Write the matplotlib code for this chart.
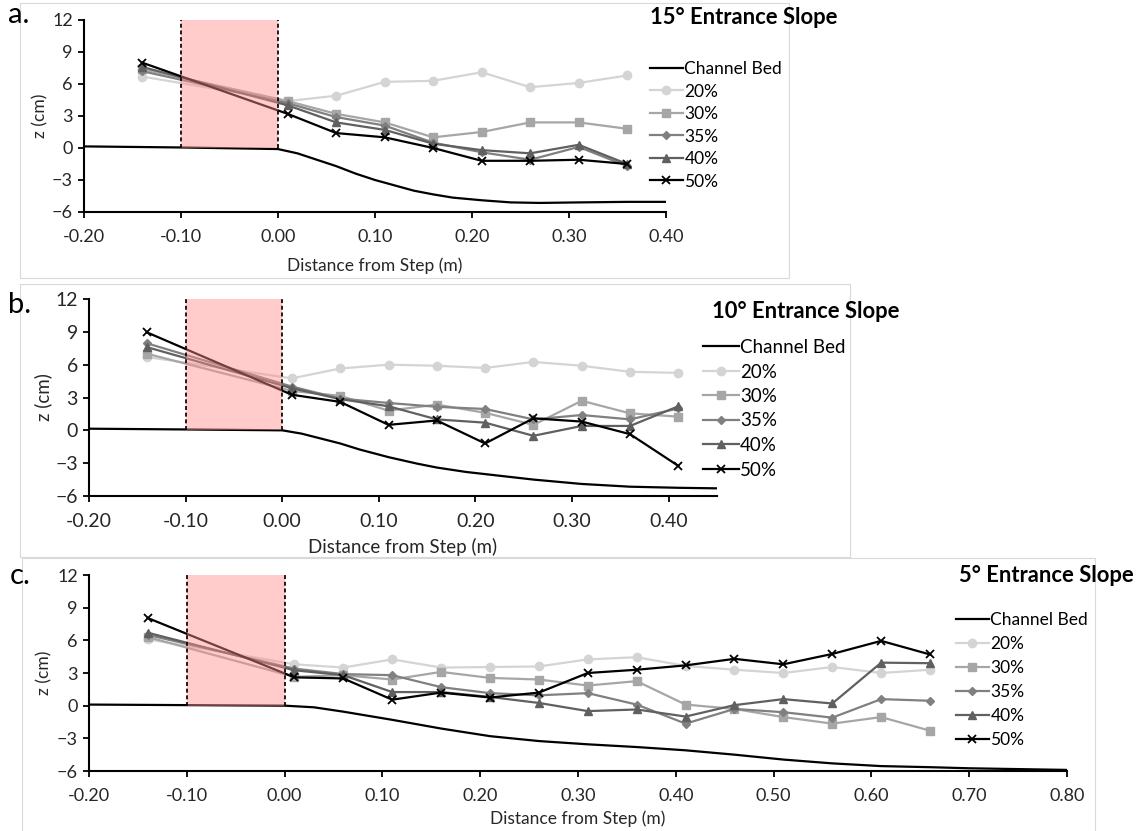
import matplotlib
matplotlib.use("Agg")
import matplotlib.pyplot as plt
from matplotlib.patches import Rectangle

plt.rcParams['font.family'] = ['Lato', 'DejaVu Sans']

W, H = 1138, 831

series_labels = ['20%', '30%', '35%', '40%', '50%']

# 15 degree entrance slope
x_a = [-0.14, 0.01, 0.06, 0.11, 0.16, 0.21, 0.26, 0.31, 0.36]
a_20 = [6.7, 4.4, 4.9, 6.2, 6.3, 7.1, 5.7, 6.1, 6.8]
a_30 = [7.4, 4.4, 3.2, 2.4, 1.0, 1.5, 2.4, 2.4, 1.8]
a_35 = [7.2, 4.2, 2.9, 2.1, 0.5, -0.4, -1.1, 0.1, -1.7]
a_40 = [7.6, 4.0, 2.4, 1.7, 0.4, -0.2, -0.5, 0.3, -1.5]
a_50 = [8.0, 3.2, 1.4, 1.0, 0.0, -1.2, -1.2, -1.1, -1.5]
bed_x_a = [-0.20, -0.10, 0.00, 0.02, 0.04, 0.06, 0.08, 0.10, 0.12, 0.14, 0.16,
           0.18, 0.21, 0.24, 0.27, 0.31, 0.36, 0.40]
bed_z_a = [0.15, 0.05, -0.1, -0.5, -1.1, -1.7, -2.4, -3.0, -3.5, -4.0, -4.35,
           -4.65, -4.9, -5.1, -5.15, -5.1, -5.05, -5.05]

# 10 degree entrance slope
x_b = [-0.14, 0.01, 0.06, 0.11, 0.16, 0.21, 0.26, 0.31, 0.36, 0.41]
b_20 = [6.7, 4.75, 5.65, 6.0, 5.9, 5.7, 6.25, 5.9, 5.35, 5.25]
b_30 = [7.0, 3.6, 3.15, 1.8, 2.35, 1.6, 0.5, 2.7, 1.55, 1.25]
b_35 = [7.95, 4.0, 2.9, 2.5, 2.15, 1.95, 1.0, 1.4, 1.0, 2.0]
b_40 = [7.6, 3.85, 2.85, 2.2, 1.0, 0.7, -0.5, 0.4, 0.4, 2.2]
b_50 = [8.95, 3.25, 2.6, 0.5, 0.9, -1.2, 1.1, 0.8, -0.35, -3.25]
bed_x_b = [-0.20, -0.10, 0.00, 0.02, 0.04, 0.06, 0.08, 0.11, 0.14, 0.16, 0.19,
           0.21, 0.26, 0.31, 0.36, 0.41, 0.45]
bed_z_b = [0.15, 0.08, 0.0, -0.3, -0.75, -1.2, -1.75, -2.45, -3.05, -3.4, -3.8,
           -4.0, -4.5, -4.9, -5.15, -5.25, -5.3]

# 5 degree entrance slope
x_c = [-0.14, 0.01, 0.06, 0.11, 0.16, 0.21, 0.26, 0.31, 0.36, 0.41, 0.46,
       0.51, 0.56, 0.61, 0.66]
c_20 = [6.1, 3.8, 3.5, 4.25, 3.5, 3.55, 3.6, 4.25, 4.45, 3.65, 3.3, 3.0, 3.55, 3.0, 3.3]
c_30 = [6.3, 2.65, 2.8, 2.4, 3.1, 2.55, 2.4, 1.85, 2.25, 0.1, -0.3, -1.05, -1.65, -1.05, -2.3]
c_35 = [6.5, 3.4, 2.9, 2.8, 1.7, 1.15, 0.95, 1.15, 0.1, -1.65, -0.3, -0.6, -1.1, 0.6, 0.45]
c_40 = [6.7, 3.25, 2.8, 1.25, 1.25, 0.8, 0.25, -0.5, -0.35, -1.0, 0.05, 0.6, 0.2, 3.95, 3.9]
c_50 = [8.05, 2.6, 2.5, 0.55, 1.2, 0.75, 1.2, 3.0, 3.3, 3.7, 4.3, 3.8, 4.75, 5.95, 4.7]
bed_x_c = [-0.20, -0.10, 0.00, 0.03, 0.06, 0.11, 0.16, 0.21, 0.26, 0.31, 0.36,
           0.41, 0.46, 0.51, 0.56, 0.61, 0.66, 0.70, 0.80]
bed_z_c = [0.1, 0.05, 0.0, -0.15, -0.55, -1.3, -2.1, -2.8, -3.25, -3.55, -3.8,
           -4.1, -4.5, -4.95, -5.3, -5.55, -5.65, -5.75, -5.9]

styles = [
    dict(color='#d4d4d4', marker='o', ms=6),
    dict(color='#a6a6a6', marker='s', ms=5.5),
    dict(color='#808080', marker='D', ms=4),
    dict(color='#606060', marker='^', ms=6),
    dict(color='#000000', marker='x', ms=6, mew=1.3),
]


def px_axes(fig, left, top, right, bottom):
    return fig.add_axes([left / W, 1 - bottom / H, (right - left) / W, (bottom - top) / H])


def frame(fig, left, top, right, bottom):
    fig.patches.append(Rectangle((left / W, 1 - bottom / H), (right - left) / W,
                                 (bottom - top) / H, transform=fig.transFigure,
                                 fill=False, edgecolor='#d9d9d9', lw=0.8, zorder=0))


def draw_panel(fig, box, x, ys, bed_x, bed_z, xmax, title, title_xy, leg_xy,
               letter, letter_xy, ylabel_x, xlabel_y, fs=12.5, tick_fs=13,
               leg_fs=12.5, leg_space=0.35):
    ax = px_axes(fig, *box)
    handles = []
    h, = ax.plot(bed_x, bed_z, color='black', lw=1.6, zorder=2)
    handles.append(h)
    for y, st in zip(ys, styles):
        h, = ax.plot(x, y, lw=1.6, zorder=3, **st)
        handles.append(h)

    # entrance slope region
    ax.add_patch(Rectangle((-0.1, 0), 0.1, 12, facecolor=(1.0, 0.55, 0.55),
                           alpha=0.45, lw=0, zorder=4))
    for xv in (-0.1, 0.0):
        ax.plot([xv, xv], [0, 12], color='#1a0505', lw=1.3,
                linestyle=(0, (2.2, 1.5)), zorder=5)

    ax.set_xlim(-0.2, xmax)
    ax.set_ylim(-6, 12)
    ax.set_yticks(range(-6, 13, 3))
    ticks = [round(-0.2 + 0.1 * i, 2) for i in range(int(round((xmax + 0.2) / 0.1)) + 1)]
    ax.set_xticks(ticks)
    ax.set_xticklabels([f'{t:.2f}' for t in ticks])
    for s in ('top', 'right'):
        ax.spines[s].set_visible(False)
    for s in ('left', 'bottom'):
        ax.spines[s].set_linewidth(1.5)
    ax.tick_params(direction='out', length=4, width=1.3, labelsize=tick_fs,
                   labelcolor='#262626')
    ax.tick_params(axis='x', pad=8)
    ax.tick_params(axis='y', pad=4)
    ax.set_ylabel('z (cm)', fontsize=fs, color='#262626', va='center')
    ax.set_xlabel('Distance from Step (m)', fontsize=fs, color='#262626', va='center')
    w = box[2] - box[0]
    hgt = box[3] - box[1]
    ax.yaxis.set_label_coords((ylabel_x - box[0]) / w, 0.5)
    ax.xaxis.set_label_coords(0.5, -(xlabel_y - box[3]) / hgt)

    fig.text(title_xy[0] / W, 1 - title_xy[1] / H, title, fontsize=15.8,
             fontweight='bold', va='center', ha='left')
    fig.text(letter_xy[0] / W, 1 - letter_xy[1] / H, letter, fontsize=21,
             va='baseline', ha='left')

    ax.legend(handles, ['Channel Bed'] + series_labels, loc='upper left',
              bbox_to_anchor=(leg_xy[0] / W, 1 - leg_xy[1] / H),
              bbox_transform=fig.transFigure, frameon=False, fontsize=leg_fs,
              handlelength=1.9, handletextpad=0.08, labelspacing=leg_space,
              borderpad=0, borderaxespad=0)
    return ax


def main():
    fig = plt.figure(figsize=(W / 100, H / 100), dpi=100)

    frame(fig, 20, 3, 789, 278)
    frame(fig, 20, 284, 850, 557)
    frame(fig, 22, 558, 1095, 835)

    draw_panel(fig, (84, 20, 666, 212), x_a, [a_20, a_30, a_35, a_40, a_50],
               bed_x_a, bed_z_a, 0.40, '15° Entrance Slope', (650, 18),
               (650, 61), 'a.', (8, 23), 40, 266,
               fs=12.5, tick_fs=13, leg_fs=12.5, leg_space=0.375)
    draw_panel(fig, (89, 299, 717, 496), x_b, [b_20, b_30, b_35, b_40, b_50],
               bed_x_b, bed_z_b, 0.45, '10° Entrance Slope', (712, 312),
               (703, 339), 'b.', (8, 313), 43, 547,
               fs=13.5, tick_fs=14, leg_fs=13.5, leg_space=0.4)
    draw_panel(fig, (89, 575, 1067, 771), x_c, [c_20, c_30, c_35, c_40, c_50],
               bed_x_c, bed_z_c, 0.80, '5° Entrance Slope', (959, 576),
               (956, 612), 'c.', (10, 584), 44, 819,
               fs=12.5, tick_fs=13, leg_fs=12.5, leg_space=0.46)

    fig.savefig('out.png', dpi=100)
    plt.close(fig)


if __name__ == "__main__":
    main()
